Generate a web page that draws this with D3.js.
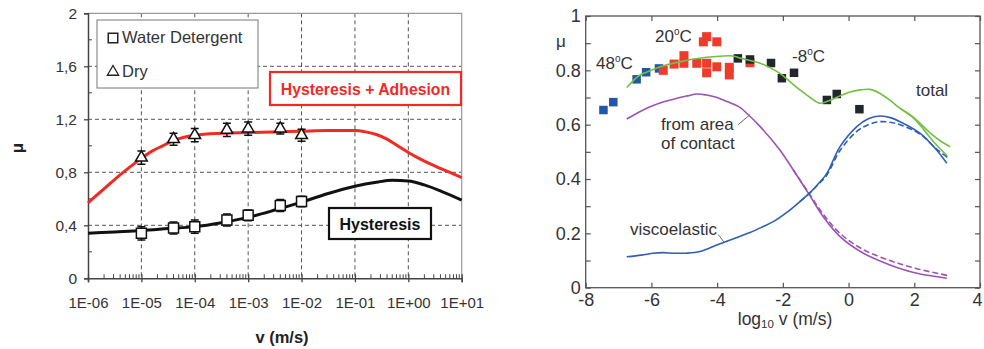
<!DOCTYPE html>
<html>
<head>
<meta charset="utf-8">
<script src="https://cdn.jsdelivr.net/npm/d3@7"></script>
<style>
  body { margin: 0; background: #fff; }
  svg { display: block; font-family: "Liberation Sans", Arial, sans-serif; }
</style>
</head>
<body>
<svg id="chart" width="984" height="349"></svg>
<script>
// ---- left panel: friction vs sliding speed ----
var leftXTicks = [1e-6, 1e-5, 1e-4, 1e-3, 1e-2, 1e-1, 1e0, 1e1];
var leftXLabels = ["1E-06", "1E-05", "1E-04", "1E-03", "1E-02", "1E-01", "1E+00", "1E+01"];
var leftYTicks = [0, 0.4, 0.8, 1.2, 1.6, 2];
var leftYLabels = ["0", "0,4", "0,8", "1,2", "1,6", "2"];

var testV = [1e-5, 4e-5, 1e-4, 4e-4, 1e-3, 4e-3, 1e-2];
var waterMu = [0.34, 0.38, 0.39, 0.44, 0.475, 0.55, 0.58];
var waterErr = [0.05, 0.045, 0.05, 0.045, 0.04, 0.045, 0.04];
var dryMu = [0.91, 1.05, 1.08, 1.12, 1.13, 1.13, 1.08];
var dryErr = [0.05, 0.045, 0.05, 0.05, 0.05, 0.04, 0.045];

// curves, x given as log10(v)
var hystAdhLogV = [-6, -5.8, -5.6, -5.4, -5.2, -5, -4.8, -4.6, -4.4, -4.2, -4, -3.5, -3, -2.5, -2, -1.5, -1, -0.8, -0.6, -0.4, -0.2, 0, 0.2, 0.4, 0.6, 0.8, 1];
var hystAdhMu = [0.57, 0.64, 0.71, 0.78, 0.845, 0.905, 0.96, 1.0, 1.04, 1.065, 1.08, 1.095, 1.1, 1.105, 1.11, 1.115, 1.115, 1.105, 1.085, 1.05, 1.0, 0.95, 0.905, 0.865, 0.83, 0.795, 0.76];
var hystLogV = [-6, -5.5, -5, -4.5, -4, -3.5, -3, -2.5, -2, -1.5, -1, -0.6, -0.3, 0, 0.3, 0.6, 1];
var hystMu = [0.34, 0.35, 0.36, 0.375, 0.39, 0.42, 0.46, 0.515, 0.575, 0.64, 0.695, 0.725, 0.74, 0.735, 0.705, 0.66, 0.59];

// ---- right panel: master curve ----
var rightXTicks = [-8, -6, -4, -2, 0, 2, 4];
var rightXLabels = ["-8", "-6", "-4", "-2", "0", "2", "4"];
var rightYTicks = [0, 0.1, 0.2, 0.3, 0.4, 0.5, 0.6, 0.7, 0.8, 0.9, 1];
var rightYLabels = ["0", "", "0.2", "", "0.4", "", "0.6", "", "0.8", "", "1"];

var sq48X = [-7.46, -7.16, -6.45, -6.16, -5.77];
var sq48Mu = [0.654, 0.683, 0.767, 0.793, 0.807];
var sq20X = [-5.64, -5.31, -5.01, -5.01, -4.62, -4.32, -4.32, -4.01, -3.63, -3.63, -4.42, -4.32, -4.01, -3.0];
var sq20Mu = [0.80, 0.823, 0.854, 0.826, 0.826, 0.826, 0.791, 0.813, 0.811, 0.783, 0.905, 0.924, 0.905, 0.828];
var sqM8X = [-3.37, -3.0, -2.36, -2.03, -1.66, -0.66, -0.36, 0.33];
var sqM8Mu = [0.844, 0.84, 0.827, 0.771, 0.791, 0.691, 0.713, 0.657];

var totalX = [-6.75, -6.35, -6.0, -5.74, -5.03, -4.32, -3.51, -3.3, -3.0, -2.69, -2.39, -2.09, -1.8, -1.48, -1.17, -0.87, -0.56, -0.26, 0.04, 0.35, 0.65, 0.96, 1.26, 1.57, 1.97, 2.48, 2.8, 3.09];
var totalMu = [0.737, 0.783, 0.80, 0.813, 0.834, 0.848, 0.853, 0.845, 0.836, 0.826, 0.81, 0.789, 0.76, 0.728, 0.70, 0.679, 0.69, 0.706, 0.72, 0.728, 0.73, 0.715, 0.69, 0.66, 0.628, 0.57, 0.54, 0.519];
var total2X = [1.57, 1.97, 2.3, 2.6, 3.0];
var total2Mu = [0.66, 0.625, 0.58, 0.535, 0.485];
var viscoX = [-6.75, -6.3, -5.94, -5.64, -5.3, -4.93, -4.52, -4.01, -3.5, -3.0, -2.6, -2.29, -1.9, -1.48, -1.17, -0.9, -0.66, -0.26, 0.25, 0.6, 0.96, 1.3, 1.57, 2.18, 2.68, 2.99];
var viscoMu = [0.114, 0.12, 0.127, 0.129, 0.127, 0.127, 0.133, 0.157, 0.18, 0.203, 0.225, 0.243, 0.275, 0.317, 0.35, 0.385, 0.421, 0.519, 0.593, 0.622, 0.632, 0.625, 0.611, 0.568, 0.507, 0.458];
var viscoDashX = [-1.48, -1.17, -0.9, -0.66, -0.26, 0.25, 0.6, 0.96, 1.3, 1.57, 2.18, 2.68, 3.05];
var viscoDashMu = [0.317, 0.35, 0.383, 0.415, 0.505, 0.575, 0.6, 0.611, 0.608, 0.6, 0.565, 0.51, 0.476];
var areaX = [-6.75, -6.4, -6.04, -5.6, -5.23, -4.9, -4.62, -4.32, -4.0, -3.7, -3.3, -3.1, -2.69, -2.09, -1.68, -1.22, -0.77, -0.26, 0.45, 1.26, 2.08, 2.99];
var areaMu = [0.621, 0.645, 0.666, 0.685, 0.697, 0.706, 0.713, 0.709, 0.70, 0.685, 0.663, 0.642, 0.593, 0.507, 0.433, 0.347, 0.261, 0.188, 0.127, 0.084, 0.053, 0.035];
var areaDashX = [-1.68, -1.22, -0.77, -0.26, 0.45, 1.26, 2.08, 3.09];
var areaDashMu = [0.433, 0.35, 0.27, 0.20, 0.14, 0.10, 0.07, 0.043];

var svg = d3.select("#chart");

function pairs(xs, ys) { return xs.map(function(d, i) { return [d, ys[i]]; }); }

// ================= LEFT PANEL =================
var xL = d3.scaleLog().domain([1e-6, 1e1]).range([88, 461.7]);
var yL = d3.scaleLinear().domain([0, 2]).range([278.3, 13.3]);
var left = svg.append("g");

// grid
left.append("g").selectAll("line")
  .data(leftXTicks.slice(1, -1)).enter().append("line")
    .attr("x1", xL).attr("x2", xL)
    .attr("y1", yL(2)).attr("y2", yL(0))
    .attr("stroke", "#555").attr("stroke-dasharray", "4,3");
left.append("g").selectAll("line")
  .data(leftYTicks.slice(1, -1)).enter().append("line")
    .attr("x1", xL(1e-6)).attr("x2", xL(1e1))
    .attr("y1", yL).attr("y2", yL)
    .attr("stroke", "#555").attr("stroke-dasharray", "4,3");

// frame top and right
left.append("path")
  .attr("d", "M" + xL(1e-6) + "," + yL(2) + "H" + xL(1e1) + "V" + yL(0))
  .attr("fill", "none").attr("stroke", "#999").attr("stroke-width", 1.2);

// x axis
var xAxisL = left.append("g")
  .attr("transform", "translate(0," + yL(0) + ")")
  .call(d3.axisBottom(xL).tickValues(leftXTicks).tickSize(4).tickPadding(15)
    .tickFormat(function(d, i) { return leftXLabels[i]; }));
xAxisL.select(".domain").attr("stroke", "#444").attr("stroke-width", 1.5);
xAxisL.selectAll(".tick line").attr("y1", -4).attr("stroke", "#444").attr("stroke-width", 1.3);
xAxisL.selectAll("text").attr("font-size", 15).attr("fill", "#333").attr("font-family", null);
left.append("g").selectAll("line")
  .data(xL.ticks().filter(function(d) { return leftXTicks.indexOf(d) < 0; }))
  .enter().append("line")
    .attr("x1", xL).attr("x2", xL)
    .attr("y1", yL(0)).attr("y2", yL(0) - 4)
    .attr("stroke", "#444");

// y axis
var yAxisL = left.append("g")
  .attr("transform", "translate(" + xL(1e-6) + ",0)")
  .call(d3.axisLeft(yL).tickValues(leftYTicks).tickSize(4).tickPadding(7)
    .tickFormat(function(d, i) { return leftYLabels[i]; }));
yAxisL.select(".domain").attr("stroke", "#444").attr("stroke-width", 1.5);
yAxisL.selectAll(".tick line").attr("stroke", "#444").attr("stroke-width", 1.3);
yAxisL.selectAll("text").attr("font-size", 15.5).attr("fill", "#333").attr("font-family", null);
left.append("g").selectAll("line")
  .data([0.2, 0.6, 1.0, 1.4, 1.8]).enter().append("line")
    .attr("x1", xL(1e-6)).attr("x2", xL(1e-6) + 4)
    .attr("y1", yL).attr("y2", yL)
    .attr("stroke", "#444");

left.append("text")
  .attr("transform", "translate(23,148) rotate(-90)")
  .attr("text-anchor", "middle").attr("font-size", 17).attr("font-weight", "bold")
  .attr("fill", "#222").text("μ");
left.append("text")
  .attr("x", 282).attr("y", 343)
  .attr("text-anchor", "middle").attr("font-size", 16.5).attr("font-weight", "bold")
  .attr("fill", "#222").text("v (m/s)");

// legend
var legendL = left.append("g");
legendL.append("rect").attr("x", 97).attr("y", 20).attr("width", 161).attr("height", 68)
  .attr("fill", "#fff").attr("stroke", "#777");
legendL.append("path").attr("d", d3.symbol(d3.symbolSquare, 90)())
  .attr("transform", "translate(113,38)").attr("fill", "#fff").attr("stroke", "#222").attr("stroke-width", 1.5);
legendL.append("path").attr("d", d3.symbol(d3.symbolTriangle, 55)())
  .attr("transform", "translate(113,72)").attr("fill", "#fff").attr("stroke", "#222").attr("stroke-width", 1.3);
legendL.append("text").attr("x", 122).attr("y", 43).attr("font-size", 16.5).attr("fill", "#333").text("Water Detergent");
legendL.append("text").attr("x", 122).attr("y", 77).attr("font-size", 16.5).attr("fill", "#333").text("Dry");

// curves
var lineL = d3.line()
  .x(function(d) { return xL(Math.pow(10, d[0])); })
  .y(function(d) { return yL(d[1]); })
  .curve(d3.curveMonotoneX);
left.append("path").datum(pairs(hystAdhLogV, hystAdhMu))
  .attr("d", lineL).attr("fill", "none").attr("stroke", "#ee2b25").attr("stroke-width", 3);
left.append("path").datum(pairs(hystLogV, hystMu))
  .attr("d", lineL).attr("fill", "none").attr("stroke", "#111").attr("stroke-width", 3);

// label boxes
left.append("rect").attr("x", 270).attr("y", 72).attr("width", 191).attr("height", 33)
  .attr("fill", "#fff").attr("stroke", "#ee2b25").attr("stroke-width", 2.2);
left.append("text").attr("x", 365.5).attr("y", 94.5).attr("text-anchor", "middle")
  .attr("font-size", 15.8).attr("font-weight", "bold").attr("fill", "#ee2b25").text("Hysteresis + Adhesion");
left.append("rect").attr("x", 329).attr("y", 208).attr("width", 102).attr("height", 31)
  .attr("fill", "#fff").attr("stroke", "#111").attr("stroke-width", 2.2);
left.append("text").attr("x", 380).attr("y", 229.5).attr("text-anchor", "middle")
  .attr("font-size", 16).attr("font-weight", "bold").attr("fill", "#111").text("Hysteresis");

// error bars + markers
function drawSeries(mu, err, symbol, size) {
  var g = left.append("g").selectAll("g")
    .data(testV.map(function(v, i) { return {v: v, mu: mu[i], e: err[i]}; }))
    .enter().append("g")
      .attr("transform", function(d) { return "translate(" + xL(d.v) + ",0)"; });
  g.append("path")
    .attr("d", function(d) {
      var t = yL(d.mu + d.e), b = yL(d.mu - d.e);
      return "M0," + t + "V" + b + "M-4," + t + "H4M-4," + b + "H4";
    })
    .attr("stroke", "#111").attr("stroke-width", 1.5).attr("fill", "none");
  g.append("path")
    .attr("d", d3.symbol(symbol, size)())
    .attr("transform", function(d) { return "translate(0," + yL(d.mu) + ")"; })
    .attr("fill", "#fff").attr("stroke", "#111").attr("stroke-width", 1.5);
}
drawSeries(waterMu, waterErr, d3.symbolSquare, 100);
drawSeries(dryMu, dryErr, d3.symbolTriangle, 60);

// ================= RIGHT PANEL =================
var xR = d3.scaleLinear().domain([-8, 4]).range([585.7, 980]);
var yR = d3.scaleLinear().domain([0, 1]).range([287.7, 16]);
var right = svg.append("g");
var axisColor = "#555";

right.append("rect")
  .attr("x", xR(-8)).attr("y", yR(1))
  .attr("width", xR(4) - xR(-8)).attr("height", yR(0) - yR(1))
  .attr("fill", "none").attr("stroke", axisColor).attr("stroke-width", 1.3);

function styleAxis(g) {
  g.select(".domain").remove();
  g.selectAll(".tick line").attr("stroke", axisColor).attr("stroke-width", 1.2);
  g.selectAll("text").attr("font-size", 18).attr("fill", "#333").attr("font-family", null);
}
var xAxisR = right.append("g").attr("transform", "translate(0," + yR(0) + ")")
  .call(d3.axisBottom(xR).tickValues(rightXTicks).tickSize(-5).tickPadding(6)
    .tickFormat(function(d, i) { return rightXLabels[i]; }))
  .call(styleAxis);
// keep the last label inside the window
xAxisR.selectAll(".tick text").filter(function(d) { return d === 4; }).attr("dx", -3);
right.append("g").attr("transform", "translate(0," + yR(1) + ")")
  .call(d3.axisTop(xR).tickValues(rightXTicks).tickSize(-5).tickFormat(""))
  .call(styleAxis);
right.append("g").attr("transform", "translate(" + xR(-8) + ",0)")
  .call(d3.axisLeft(yR).tickValues(rightYTicks).tickSize(-5).tickPadding(5)
    .tickFormat(function(d, i) { return rightYLabels[i]; }))
  .call(styleAxis);
right.append("g").attr("transform", "translate(" + xR(4) + ",0)")
  .call(d3.axisRight(yR).tickValues(rightYTicks).tickSize(-5).tickFormat(""))
  .call(styleAxis);

right.append("text").attr("x", 556).attr("y", 47).attr("font-size", 17).attr("fill", "#333").text("μ");
var xl = right.append("text").attr("x", 785).attr("y", 325).attr("text-anchor", "middle")
  .attr("font-size", 17.5).attr("fill", "#333");
xl.append("tspan").text("log");
xl.append("tspan").attr("font-size", 11.5).attr("dy", 3).text("10");
xl.append("tspan").attr("dy", -3).text(" v (m/s)");

// squares
function squares(xs, ys, color, s) {
  right.append("g").selectAll("rect")
    .data(pairs(xs, ys)).enter().append("rect")
      .attr("x", function(d) { return xR(d[0]) - s / 2; })
      .attr("y", function(d) { return yR(d[1]) - s / 2; })
      .attr("width", s).attr("height", s)
      .attr("fill", color);
}
squares(sq48X, sq48Mu, "#2157a6", 8.5);
squares(sq20X, sq20Mu, "#ee3b2b", 9);
squares(sqM8X, sqM8Mu, "#23262d", 8.5);

// curves
var lineR = d3.line()
  .x(function(d) { return xR(d[0]); })
  .y(function(d) { return yR(d[1]); })
  .curve(d3.curveCatmullRom.alpha(0.5));
function curve(xs, ys, color, dash) {
  right.append("path").datum(pairs(xs, ys))
    .attr("d", lineR).attr("fill", "none")
    .attr("stroke", color).attr("stroke-width", 1.6)
    .attr("stroke-dasharray", dash || null);
}
curve(areaX, areaMu, "#9b52b3");
curve(areaDashX, areaDashMu, "#9b52b3", "6,3");
curve(viscoX, viscoMu, "#2f5fb5");
curve(viscoDashX, viscoDashMu, "#2f5fb5", "6,3");
curve(totalX, totalMu, "#72bf44");
curve(total2X, total2Mu, "#72bf44");

// annotations
function degLabel(x, y, num) {
  var t = right.append("text").attr("x", x).attr("y", y).attr("font-size", 17).attr("fill", "#333");
  t.append("tspan").text(num);
  t.append("tspan").attr("font-size", 10).attr("dy", -7).text("o");
  t.append("tspan").attr("dy", 7).text("C");
}
degLabel(596, 69, "48");
degLabel(655, 42, "20");
degLabel(792, 62, "-8");
right.append("text").attr("x", 916).attr("y", 96).attr("font-size", 17).attr("fill", "#333").text("total");
right.append("text").attr("x", 661).attr("y", 130).attr("font-size", 17).attr("fill", "#333").text("from area");
right.append("text").attr("x", 661).attr("y", 149).attr("font-size", 17).attr("fill", "#333").text("of contact");
right.append("text").attr("x", 630).attr("y", 235).attr("font-size", 17).attr("fill", "#333").text("viscoelastic");

// leader lines
right.append("line")
  .attr("x1", xR(-3.36)).attr("y1", yR(0.6)).attr("x2", xR(-3.0)).attr("y2", yR(0.637))
  .attr("stroke", "#666");
right.append("line")
  .attr("x1", xR(-3.96)).attr("y1", yR(0.195)).attr("x2", xR(-3.78)).attr("y2", yR(0.166))
  .attr("stroke", "#666");
</script>
</body>
</html>
